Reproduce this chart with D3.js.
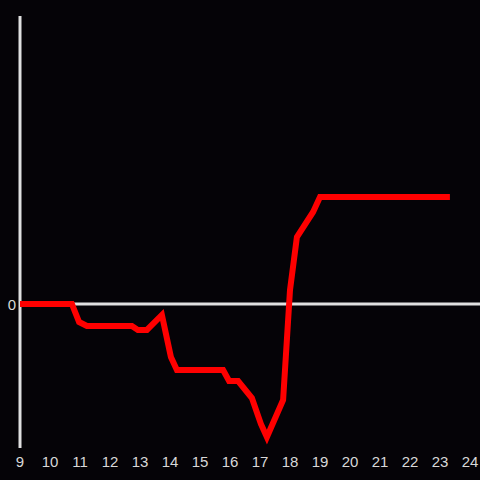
<!DOCTYPE html>
<html><head><meta charset="utf-8">
<script src="https://cdn.jsdelivr.net/npm/d3@7"></script>
<style>html,body{margin:0;padding:0;background:#050307;}svg{display:block;}</style>
</head><body>
<script>
const xs = [9, 10.73, 10.97, 11.23, 12.73, 12.93, 13.23, 13.73, 14.03, 14.23, 15.77, 15.97, 16.27, 16.73, 17.03, 17.23, 17.77, 18.0, 18.23, 18.77, 19.0, 23.33];
const ys = [0, 0, -0.125, -0.153, -0.153, -0.18, -0.18, -0.076, -0.368, -0.458, -0.458, -0.535, -0.535, -0.653, -0.833, -0.924, -0.667, 0.097, 0.465, 0.639, 0.743, 0.743];
const xTicks = [9,10,11,12,13,14,15,16,17,18,19,20,21,22,23,24];
const yTicks = [0];

const W = 480, H = 480;
const svg = d3.select("body").append("svg").attr("width", W).attr("height", H);
svg.append("rect").attr("width", W).attr("height", H).attr("fill", "#050307");
const x = d3.scaleLinear().domain([9, 24]).range([20, 470]);
const y = d3.scaleLinear().domain([-1, 2]).range([448, 16]);

svg.append("line").attr("x1", x(9)).attr("x2", x(9)).attr("y1", y(2)).attr("y2", y(-1))
  .attr("stroke", "#e0e0e0").attr("stroke-width", 3);
svg.append("line").attr("x1", x(9)).attr("x2", W).attr("y1", y(0)).attr("y2", y(0))
  .attr("stroke", "#e0e0e0").attr("stroke-width", 3);

svg.selectAll("text.xt").data(xTicks).enter().append("text")
  .attr("x", d => x(d)).attr("y", 467).attr("text-anchor", "middle")
  .attr("fill", "#d8d8d8").attr("font-family", "Liberation Sans, Arial, sans-serif").attr("font-size", 15)
  .text(d => d);
svg.selectAll("text.yt").data(yTicks).enter().append("text")
  .attr("x", 16).attr("y", d => y(d) + 5.5).attr("text-anchor", "end")
  .attr("fill", "#d8d8d8").attr("font-family", "Liberation Sans, Arial, sans-serif").attr("font-size", 15)
  .text(d => d);

const pts = xs.map((v, i) => [v, ys[i]]);
svg.append("path").datum(pts)
  .attr("d", d3.line().x(d => x(d[0])).y(d => y(d[1])))
  .attr("fill", "none").attr("stroke", "#ff0000").attr("stroke-width", 6);
</script>
</body></html>
